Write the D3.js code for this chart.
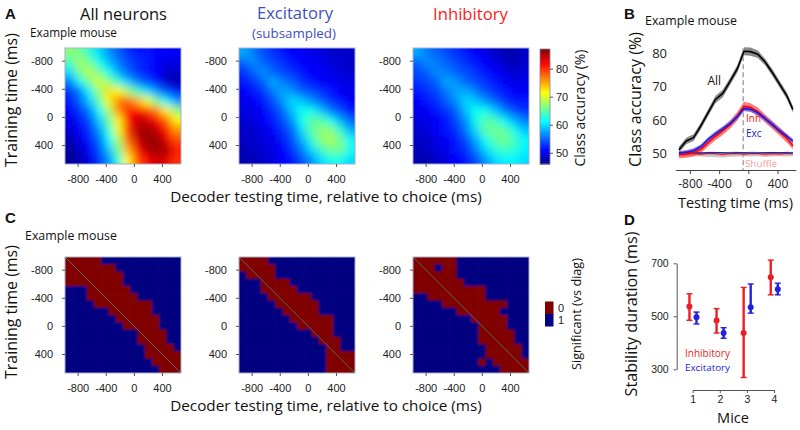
<!DOCTYPE html>
<html><head><meta charset="utf-8">
<script src="https://cdn.jsdelivr.net/npm/d3@7"></script>
<style>
body{margin:0;background:#fff;}
svg{display:block;}
</style></head><body>
<svg id="chart" width="800" height="430"></svg>
<script>
// ---------------- DATA ----------------
const heatTicks = [-800, -400, 0, 400];
const heatDomain = [-980, 670];
// Panel A: classification accuracy (%) matrices, rows = training time, cols = testing time
const accAll = [
  [67,66,63,60,57,55,53,52,52,51,51,51],
  [64,68,66,62,59,56,54,53,52,51,50,50],
  [60,66,69,66,62,58,55,53,52,51,49,49],
  [56,61,66,70,67,63,59,56,54,52,49,48],
  [53,56,61,67,73,72,68,64,60,57,54,52],
  [52,55,59,65,71,77,78,75,71,66,61,57],
  [51,53,56,61,68,76,81,82,80,77,72,67],
  [50,52,54,59,65,72,81,84,84,82,78,72],
  [49,51,53,57,63,71,80,85,86,84,81,76],
  [48,50,52,55,61,68,78,84,86,86,83,79],
  [47,49,51,54,59,66,75,82,85,86,85,81],
  [47,48,50,53,57,63,72,79,82,84,83,80]
];
const accExc = [
  [58,56,54,53,52,51,51,50,50,49,49,49],
  [55,57,55,54,53,52,51,51,50,50,49,49],
  [53,55,57,55,54,53,52,51,51,50,50,49],
  [52,53,55,58,56,55,53,52,51,51,50,50],
  [51,52,53,56,58,57,55,54,53,52,51,50],
  [50,51,52,54,57,60,59,57,55,53,52,51],
  [50,50,51,53,55,59,62,62,59,56,54,52],
  [49,50,51,52,54,57,62,65,65,62,58,55],
  [49,49,50,51,53,55,60,65,67,67,63,58],
  [49,49,50,50,52,54,58,63,67,68,66,61],
  [48,49,49,50,51,53,56,60,64,66,66,62],
  [48,48,49,50,51,52,54,57,60,62,62,60]
];
const accInh = [
  [58,56,55,54,53,52,51,50,49,48,48,49],
  [55,57,56,55,54,53,52,51,50,49,48,49],
  [54,55,57,56,55,54,53,52,51,50,49,50],
  [53,54,55,58,57,55,54,53,52,51,50,50],
  [52,53,54,56,58,58,56,54,53,52,51,51],
  [51,52,53,55,57,60,59,57,55,53,52,52],
  [50,51,52,53,55,59,62,62,59,56,54,53],
  [50,50,51,52,54,57,62,65,64,61,58,56],
  [49,50,51,52,53,56,60,65,66,65,62,59],
  [49,49,50,51,52,54,58,62,65,66,64,61],
  [48,49,50,50,52,53,56,60,63,64,63,61],
  [48,48,49,50,51,52,54,57,60,61,61,60]
];
const colorbarTicks = [50, 60, 70, 80];
const colorbarDomain = [46, 87];

// Panel C: significance vs diagonal ('0' = not significant, '1' = significant)
const sigAll = [
  "0000011111111111","0000000111111111","0000000011111111","0000000011111111",
  "1110000001111111","1110000000111111","1111000000001111","1111110000001111",
  "1111111000000111","1111111100000111","1111111111000011","1111111111000011",
  "1111111111100001","1111111111100000","1111111111110000","1111111111111000"
];
const sigExc = [
  "0000111111111111","0000011111111111","1000011111111111","1110000111111111",
  "1110000011111111","1111000000111111","1111100000011111","1111110000011111",
  "1111111000000111","1111111100000111","1111111111000111","1111111111100011",
  "1111111111110011","1111111111110000","1111111111110000","1111111111110000"
];
const sigInh = [
  "0000001111111111","0001001111111111","0000001111111111","0000000111111111",
  "0000000000111111","1100000000111111","1111000000000111","1111110000001111",
  "1111111100000111","1111111110000111","1111111110000011","1111111110000011",
  "1111111111000001","1111111111000001","1111111110100000","1111111111110000"
];
const sigLegend = ["0", "1"];

// Panel B: accuracy vs testing time (diagonal)
const testTimes  = [-950,-850,-750,-650,-550,-450,-350,-250,-150,-60,30,130,230,330,430,530,610];
const accAllLine = [51.2,53.8,54.8,58.3,62.3,66.2,68.0,71.6,75.4,80.6,80.5,79.7,77.4,74.2,70.7,67.2,63.2];
const semAll     = [0.9,1.0,1.0,1.0,1.0,1.1,1.1,1.1,1.1,1.2,1.2,1.1,1.0,1.0,1.0,1.0,1.0];
const accInhLine = [49.6,49.9,50.3,51.3,53.3,55.2,56.8,58.7,61.2,64.2,63.8,62.6,60.5,58.6,56.6,54.5,52.4];
const semInh     = [1.0,1.1,1.1,1.2,1.1,1.2,1.2,1.2,1.3,1.3,1.3,1.2,1.2,1.2,1.2,1.2,1.1];
const accExcLine = [50.1,50.4,50.9,52.1,54.3,55.9,57.4,59.0,61.1,63.5,63.3,62.2,60.5,58.7,56.8,55.2,53.8];
const semExc     = [0.6,0.6,0.7,0.7,0.7,0.8,0.8,0.8,0.8,0.8,0.8,0.8,0.8,0.8,0.8,0.7,0.7];
const shufInh    = [49.9,49.7,50.0,49.8,50.1,50.0,49.7,50.0,50.1,49.8,50.1,50.0,49.8,50.0,49.9,50.1,50.0];
const shufExc    = [50.3,50.4,50.3,50.2,50.3,50.3,50.3,50.2,50.3,50.3,50.2,50.2,50.3,50.3,50.3,50.3,50.2];
const shufAll    = [49.8,49.7,49.8,49.7,49.6,49.5,49.4,49.6,49.7,49.8,49.7,49.8,49.6,49.7,49.8,49.7,49.8];
const bTicksX = [-800, -400, 0, 400];
const bTicksY = [50, 60, 70, 80];
const choiceTime = -70;

// Panel D: stability duration per mouse
const mice = [1, 2, 3, 4];
const stabInh   = [537, 484, 437, 647];
const stabInhLo = [485, 437, 269, 581];
const stabInhHi = [585, 529, 609, 712];
const stabExc   = [496, 437, 534, 602];
const stabExcLo = [471, 417, 512, 581];
const stabExcHi = [516, 457, 622, 625];
const dTicksY = [300, 500, 700];

// ---------------- DRAWING ----------------
const svg = d3.select("#chart");
const defs = svg.append("defs");
const FONT = '"Open Sans", "Noto Sans", sans-serif';
const TFONT = '"Liberation Sans", Arial, sans-serif';
const S = 116;

defs.append("filter").attr("id","blurA").attr("x","-20%").attr("y","-20%").attr("width","140%").attr("height","140%")
  .append("feGaussianBlur").attr("stdDeviation", 4.2);
defs.append("filter").attr("id","blurC").attr("x","-20%").attr("y","-20%").attr("width","140%").attr("height","140%")
  .append("feGaussianBlur").attr("stdDeviation", 0.9);

function txt(x, y, s, o = {}) {
  const size = o.size || 16;
  const t = svg.append("text").text(s)
    .style("font-family", o.font || FONT).style("font-size", size + "px")
    .attr("fill", o.fill || "#111").attr("text-anchor", o.anchor || "start");
  if (o.weight) t.style("font-weight", o.weight);
  if (o.rotate) {
    t.attr("transform", `translate(${x},${y}) rotate(-90)`).attr("dy", "0.35em").attr("text-anchor", "middle");
  } else {
    t.attr("x", x).attr("y", y);
  }
  if (o.width) {
    const w = t.node().getComputedTextLength();
    if (w > 0) t.style("font-size", (size * o.width / w) + "px");
  }
  return t;
}

const jet = d3.scaleLinear()
  .domain([46, 51.125, 61.375, 71.625, 81.875, 87])
  .range(["#00007f", "#0000ff", "#00ffff", "#ffff00", "#ff0000", "#7f0000"])
  .clamp(true);
const sigColor = v => v === "0" ? "#800000" : "#000080";

let clipN = 0;
function drawHeat(x0, y0, mat, colorOf, filterId, pad) {
  const n = mat.length;
  const bx = d3.scaleBand().domain(d3.range(n)).range([x0, x0 + S]);
  const by = d3.scaleBand().domain(d3.range(n)).range([y0, y0 + S]);
  const cid = "clip" + (clipN++);
  defs.append("clipPath").attr("id", cid).append("rect")
    .attr("x", x0).attr("y", y0).attr("width", S).attr("height", S);
  const g = svg.append("g").attr("clip-path", `url(#${cid})`)
    .append("g").attr("filter", `url(#${filterId})`);
  const cells = [];
  mat.forEach((row, i) => { for (let j = 0; j < n; j++) cells.push({ i, j, v: row[j] }); });
  g.selectAll("rect").data(cells).join("rect")
    .attr("x", d => bx(d.j) - (d.j === 0 ? pad : 0))
    .attr("y", d => by(d.i) - (d.i === 0 ? pad : 0))
    .attr("width", d => bx.bandwidth() + 0.6 + (d.j === 0 ? pad : 0) + (d.j === n - 1 ? pad : 0))
    .attr("height", d => by.bandwidth() + 0.6 + (d.i === 0 ? pad : 0) + (d.i === n - 1 ? pad : 0))
    .attr("fill", d => colorOf(d.v));
}

function heatAxes(x0, y0, diag) {
  const xs = d3.scaleLinear().domain(heatDomain).range([x0, x0 + S]);
  const ys = d3.scaleLinear().domain(heatDomain).range([y0, y0 + S]);
  if (diag) {
    svg.append("line")
      .attr("x1", xs(heatDomain[0])).attr("y1", ys(heatDomain[0]))
      .attr("x2", xs(heatDomain[1])).attr("y2", ys(heatDomain[1]))
      .attr("stroke", "#5b6b58").attr("stroke-width", 0.9);
  }
  svg.append("rect").attr("x", x0).attr("y", y0).attr("width", S).attr("height", S)
    .attr("fill", "none").attr("stroke", "#a9b0c4").attr("stroke-width", 1);
  const fmt = d => String(d);
  const ga = svg.append("g").attr("transform", `translate(${x0},0)`)
    .call(d3.axisLeft(ys).tickValues(heatTicks).tickFormat(fmt).tickSize(3).tickPadding(9).tickSizeOuter(0));
  const gb = svg.append("g").attr("transform", `translate(0,${y0 + S})`)
    .call(d3.axisBottom(xs).tickValues(heatTicks).tickFormat(fmt).tickSize(3).tickPadding(8).tickSizeOuter(0));
  [ga, gb].forEach(g => {
    g.select(".domain").remove();
    g.selectAll(".tick line").attr("stroke", "#555");
    g.selectAll(".tick text").style("font-family", TFONT).style("font-size", "11px").attr("fill", "#222");
  });
}

// ----- Panel A -----
const Ax = [65, 239, 413];
const Ay = 48;
drawHeat(Ax[0], Ay, accAll, jet, "blurA", 16);
drawHeat(Ax[1], Ay, accExc, jet, "blurA", 16);
drawHeat(Ax[2], Ay, accInh, jet, "blurA", 16);
Ax.forEach(x => heatAxes(x, Ay, false));

// colorbar
const cbY = d3.scaleLinear().domain(colorbarDomain).range([164, 49]);
const cbVals = d3.range(colorbarDomain[0], colorbarDomain[1], 0.25);
svg.append("g").selectAll("rect").data(cbVals).join("rect")
  .attr("x", 540).attr("width", 10)
  .attr("y", d => cbY(d + 0.25)).attr("height", d => cbY(d) - cbY(d + 0.25) + 0.5)
  .attr("fill", d => jet(d + 0.125));
svg.append("rect").attr("x", 540).attr("y", 49).attr("width", 10).attr("height", 115)
  .attr("fill", "none").attr("stroke", "#8088a0").attr("stroke-width", 0.8);
const cbAx = svg.append("g").attr("transform", "translate(550,0)")
  .call(d3.axisRight(cbY).tickValues(colorbarTicks).tickSize(3).tickPadding(3));
cbAx.select(".domain").remove();
cbAx.selectAll(".tick line").attr("stroke", "#555");
cbAx.selectAll(".tick text").style("font-family", TFONT).style("font-size", "11px").attr("fill", "#222");

txt(5, 19, "A", { font: TFONT, size: 15, weight: "bold" });
txt(123.5, 19.5, "All neurons", { anchor: "middle", size: 18, width: 87 });
txt(30, 36.5, "Example mouse", { size: 13, width: 87 });
txt(295, 19, "Excitatory", { anchor: "middle", size: 18, width: 76, fill: "#3d4fc4" });
txt(294, 37.5, "(subsampled)", { anchor: "middle", size: 14, width: 84, fill: "#3d4fc4" });
txt(470.5, 19.5, "Inhibitory", { anchor: "middle", size: 18, width: 75, fill: "#ff1a1a" });
txt(580, 108, "Class accuracy (%)", { rotate: true, size: 13, width: 117 });
txt(326, 202, "Decoder testing time, relative to choice (ms)", { anchor: "middle", size: 17, width: 312 });
txt(11.5, 100, "Training time (ms)", { rotate: true, size: 17, width: 134 });

// ----- Panel C -----
const Cy = 257;
drawHeat(Ax[0], Cy, sigAll, sigColor, "blurC", 4);
drawHeat(Ax[1], Cy, sigExc, sigColor, "blurC", 4);
drawHeat(Ax[2], Cy, sigInh, sigColor, "blurC", 4);
Ax.forEach(x => heatAxes(x, Cy, true));

const legY = d3.scaleBand().domain(sigLegend).range([301.5, 326.5]);
svg.append("g").selectAll("rect").data(sigLegend).join("rect")
  .attr("x", 545).attr("width", 8.5)
  .attr("y", d => legY(d)).attr("height", legY.bandwidth())
  .attr("fill", d => sigColor(d));
svg.append("g").selectAll("text").data(sigLegend).join("text")
  .attr("x", 558).attr("y", d => legY(d) + legY.bandwidth() / 2).attr("dy", "0.35em")
  .style("font-family", TFONT).style("font-size", "11px").attr("fill", "#222")
  .text(d => d);

txt(5, 223, "C", { font: TFONT, size: 15, weight: "bold" });
txt(25, 239.5, "Example mouse", { size: 13, width: 92 });
txt(11.5, 312, "Training time (ms)", { rotate: true, size: 17, width: 134 });
txt(326, 411, "Decoder testing time, relative to choice (ms)", { anchor: "middle", size: 17, width: 312 });
txt(577, 314, "Significant (vs diag)", { rotate: true, size: 13, width: 112 });

// ----- Panel B -----
const bx = d3.scaleLinear().domain([-1000, 650]).range([675.3, 795.8]);
const by = d3.scaleLinear().domain([50, 80]).range([153.7, 53.3]);
const idx = d3.range(testTimes.length);
const area = (m, e) => d3.area().x(i => bx(testTimes[i])).y0(i => by(m[i] - e[i])).y1(i => by(m[i] + e[i]));
const line = m => d3.line().x(i => bx(testTimes[i])).y(i => by(m[i]));
const shufSem = idx.map(() => 0.55);
const gB = svg.append("g");
gB.append("path").datum(idx).attr("d", area(shufAll, shufSem)).attr("fill", "#9a9a9a").attr("opacity", 0.5);
gB.append("path").datum(idx).attr("d", area(shufInh, shufSem)).attr("fill", "#ff8c8c").attr("opacity", 0.6);
gB.append("path").datum(idx).attr("d", area(accAllLine, semAll)).attr("fill", "#8a8a8a");
gB.append("path").datum(idx).attr("d", area(accInhLine, semInh)).attr("fill", "#ff5050").attr("opacity", 0.75);
gB.append("path").datum(idx).attr("d", area(accExcLine, semExc)).attr("fill", "#4a4aff").attr("opacity", 0.6);
gB.append("line").attr("x1", bx(choiceTime)).attr("x2", bx(choiceTime))
  .attr("y1", by(81.5)).attr("y2", 170).attr("stroke", "#aaaaaa").attr("stroke-width", 1.6)
  .attr("stroke-dasharray", "5,3");
gB.append("path").datum(idx).attr("d", line(shufInh)).attr("fill", "none").attr("stroke", "#e03030").attr("stroke-width", 1.2);
gB.append("path").datum(idx).attr("d", line(shufExc)).attr("fill", "none").attr("stroke", "#2a2aa0").attr("stroke-width", 1.4);
gB.append("path").datum(idx).attr("d", line(accAllLine)).attr("fill", "none").attr("stroke", "#000").attr("stroke-width", 1.6);
gB.append("path").datum(idx).attr("d", line(accInhLine)).attr("fill", "none").attr("stroke", "#ff0000").attr("stroke-width", 1.5);
gB.append("path").datum(idx).attr("d", line(accExcLine)).attr("fill", "none").attr("stroke", "#1a1ad0").attr("stroke-width", 1.5);

const bxAx = svg.append("g").attr("transform", "translate(0,170)")
  .call(d3.axisBottom(bx).tickValues(bTicksX).tickFormat(d => String(d)).tickSize(4).tickPadding(5).tickSizeOuter(0));
bxAx.select(".domain").attr("stroke", "#444");
bxAx.selectAll(".tick line").attr("stroke", "#444");
bxAx.selectAll(".tick text").style("font-family", FONT).style("font-size", "12px").attr("fill", "#222");
const byAx = svg.append("g").attr("transform", "translate(672,0)")
  .call(d3.axisLeft(by).tickValues(bTicksY).tickSize(0).tickPadding(5));
byAx.select(".domain").remove();
byAx.selectAll(".tick text").style("font-family", FONT).style("font-size", "13px").attr("fill", "#222");

txt(624, 19, "B", { font: TFONT, size: 15, weight: "bold" });
txt(645, 25, "Example mouse", { size: 13, width: 92 });
txt(635, 99.5, "Class accuracy (%)", { rotate: true, size: 17, width: 135 });
txt(735.5, 208, "Testing time (ms)", { anchor: "middle", size: 17, width: 115 });
txt(707.5, 85, "All", { size: 12, fill: "#111" });
txt(746, 122, "Inh", { size: 10, fill: "#ff1010" });
txt(746, 136.5, "Exc", { size: 10, fill: "#2020d0" });
txt(745, 167, "Shuffle", { size: 11, fill: "#f5a0a0", width: 32 });

// ----- Panel D -----
const dx = d3.scaleLinear().domain([1, 4]).range([692.7, 774]);
const dy = d3.scaleLinear().domain([300, 700]).range([369.3, 263.3]);
const inhOff = -0.12, excOff = 0.14, cap = 3;
const dInh = mice.map((m, i) => ({ x: m + inhOff, v: stabInh[i], lo: stabInhLo[i], hi: stabInhHi[i], c: "#ee1c24" }));
const dExc = mice.map((m, i) => ({ x: m + excOff, v: stabExc[i], lo: stabExcLo[i], hi: stabExcHi[i], c: "#2222dd" }));
const gD = svg.append("g");
[dInh, dExc].forEach(ser => {
  const g = gD.append("g");
  g.selectAll(".eb").data(ser).join("line").attr("class", "eb")
    .attr("x1", d => dx(d.x)).attr("x2", d => dx(d.x)).attr("y1", d => dy(d.lo)).attr("y2", d => dy(d.hi))
    .attr("stroke", d => d.c).attr("stroke-width", 2.4);
  g.selectAll(".ct").data(ser).join("line").attr("class", "ct")
    .attr("x1", d => dx(d.x) - cap).attr("x2", d => dx(d.x) + cap).attr("y1", d => dy(d.hi)).attr("y2", d => dy(d.hi))
    .attr("stroke", d => d.c).attr("stroke-width", 1.4);
  g.selectAll(".cb").data(ser).join("line").attr("class", "cb")
    .attr("x1", d => dx(d.x) - cap).attr("x2", d => dx(d.x) + cap).attr("y1", d => dy(d.lo)).attr("y2", d => dy(d.lo))
    .attr("stroke", d => d.c).attr("stroke-width", 1.4);
  g.selectAll("circle").data(ser).join("circle")
    .attr("cx", d => dx(d.x)).attr("cy", d => dy(d.v)).attr("r", 3).attr("fill", d => d.c);
});
const dyAx = svg.append("g").attr("transform", "translate(676.7,0)")
  .call(d3.axisLeft(dy).tickValues(dTicksY).tickFormat(d3.format("d")).tickSize(3).tickPadding(5).tickSizeOuter(0));
const dxAx = svg.append("g").attr("transform", "translate(0,390)")
  .call(d3.axisBottom(dx).tickValues(mice).tickFormat(d3.format("d")).tickSize(3).tickPadding(3).tickSizeOuter(0));
[dyAx, dxAx].forEach(g => {
  g.select(".domain").attr("stroke", "#555");
  g.selectAll(".tick line").attr("stroke", "#555");
  g.selectAll(".tick text").style("font-family", TFONT).style("font-size", "10.5px").attr("fill", "#222");
});

txt(624, 225, "D", { font: TFONT, size: 15, weight: "bold" });
txt(631.5, 314, "Stability duration (ms)", { rotate: true, size: 17, width: 165 });
txt(733, 423, "Mice", { anchor: "middle", size: 17, width: 32 });
txt(685, 357, "Inhibitory", { size: 12, fill: "#ee1c24", width: 45 });
txt(685, 371, "Excitatory", { size: 12, fill: "#2222dd", width: 45 });
</script>
</body></html>
